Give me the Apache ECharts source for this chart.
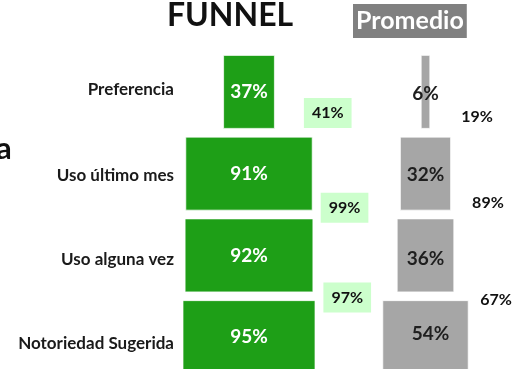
<!DOCTYPE html>
<html>
<head>
<meta charset="utf-8">
<script src="https://cdn.jsdelivr.net/npm/echarts@6/dist/echarts.min.js"></script>
<style>
  html, body { margin: 0; padding: 0; background: #ffffff; }
  #chart { width: 512px; height: 369px; }
</style>
</head>
<body>
<div id="chart"></div>
<script>
// Funnel levels, top to bottom
const categories = ['Preferencia', 'Uso último mes', 'Uso alguna vez', 'Notoriedad Sugerida'];
// Brand funnel (%)
const brandValues = [37, 91, 92, 95];
// Category average funnel (%)
const averageValues = [6, 32, 36, 54];
// Conversion between consecutive levels (%)
const brandConversion = [41, 99, 97];
const averageConversion = [19, 89, 67];

// Label placement for the conversion tags (pixel offsets from the bar edge)
const brandConvOffset = [[29, 21], [8, 34], [10, 42]];
const averageConvOffset = [[31, 25], [21, 29], [26, 44]];
// Vertical nudge of each level name (px, positive = down)
const levelNameShift = [-2, 2, 4, 6];

const FONT = 'Lato';
const WEIGHT = 'bold';
const GREEN = '#1e9f17';
const GREY = '#a6a6a6';

function funnelSeries(values, conv, convOffset, gridIdx, color, valueColor, convStyle, valueLabelOffsets, withNames) {
  const stack = 'f' + gridIdx;
  const pad = values.map(v => (100 - v) / 2);
  return [
    {
      // leading spacer: centres the bar; carries the level name on its left
      type: 'bar', stack, xAxisIndex: gridIdx, yAxisIndex: gridIdx, barWidth: 74,
      silent: true, itemStyle: { color: 'transparent' },
      label: {
        show: withNames, position: 'left', distance: 5,
        formatter: p => categories[p.dataIndex],
        fontFamily: FONT, fontWeight: WEIGHT, fontSize: 17, color: '#1a1a1a'
      },
      data: pad.map((p, i) => ({ value: p, label: { offset: [0, levelNameShift[i]] } }))
    },
    {
      type: 'bar', stack, xAxisIndex: gridIdx, yAxisIndex: gridIdx, barWidth: 74,
      silent: true,
      itemStyle: { color, borderColor: 'rgba(255,255,255,0.7)', borderWidth: 1 },
      label: {
        show: true, position: 'inside', formatter: '{c}%',
        fontFamily: FONT, fontWeight: WEIGHT, fontSize: 19, color: valueColor
      },
      data: values.map((v, i) => ({
        value: v,
        label: valueLabelOffsets ? { offset: valueLabelOffsets[i] } : {}
      }))
    },
    {
      // trailing spacer: carries the conversion rate to the next level
      type: 'bar', stack, xAxisIndex: gridIdx, yAxisIndex: gridIdx, barWidth: 74,
      silent: true, itemStyle: { color: 'transparent' },
      data: pad.map((p, i) => ({
        value: p,
        label: i < conv.length ? Object.assign({
          show: true, position: 'insideLeft', distance: 0,
          formatter: conv[i] + '%', offset: convOffset[i],
          fontFamily: FONT, fontWeight: WEIGHT, fontSize: 16, color: '#111111'
        }, convStyle) : { show: false }
      }))
    }
  ];
}

const chart = echarts.init(document.getElementById('chart'), null, { renderer: 'canvas' });

chart.setOption({
  animation: false,
  backgroundColor: '#ffffff',
  title: [
    {
      text: 'FUNNEL', left: 167, top: 0, padding: 0,
      textStyle: { fontFamily: FONT, fontWeight: WEIGHT, fontSize: 32, color: '#111111', lineHeight: 32 }
    },
    {
      text: 'Promedio', left: 353, top: 4, padding: [3, 3, 3, 3],
      backgroundColor: '#808080',
      textStyle: { fontFamily: FONT, fontWeight: WEIGHT, fontSize: 25, color: '#ffffff', lineHeight: 28 }
    }
  ],
  graphic: [
    {
      type: 'text', left: -4, top: 133, silent: true,
      style: { text: 'a', fontFamily: FONT, fontWeight: WEIGHT, fontSize: 31, fill: '#111111' }
    }
  ],
  grid: [
    { left: 179, width: 140, top: 51, height: 327, outerBoundsMode: 'none' },
    { left: 345.5, width: 160, top: 51, height: 327, outerBoundsMode: 'none' }
  ],
  xAxis: [
    { type: 'value', gridIndex: 0, min: 0, max: 100, show: false },
    { type: 'value', gridIndex: 1, min: 0, max: 100, show: false }
  ],
  yAxis: [
    { type: 'category', gridIndex: 0, data: categories, inverse: true, show: false },
    { type: 'category', gridIndex: 1, data: categories, inverse: true, show: false }
  ],
  series: [].concat(
    funnelSeries(brandValues, brandConversion, brandConvOffset, 0, GREEN, '#ffffff',
      { backgroundColor: '#ccffcc', padding: [7, 8, 7, 8] }, null, true),
    funnelSeries(averageValues, averageConversion, averageConvOffset, 1, GREY, '#1f1f1f',
      {}, [[0, 2], [0, 1], [0, 3], [5, -3]], false)
  )
});
</script>
</body>
</html>
